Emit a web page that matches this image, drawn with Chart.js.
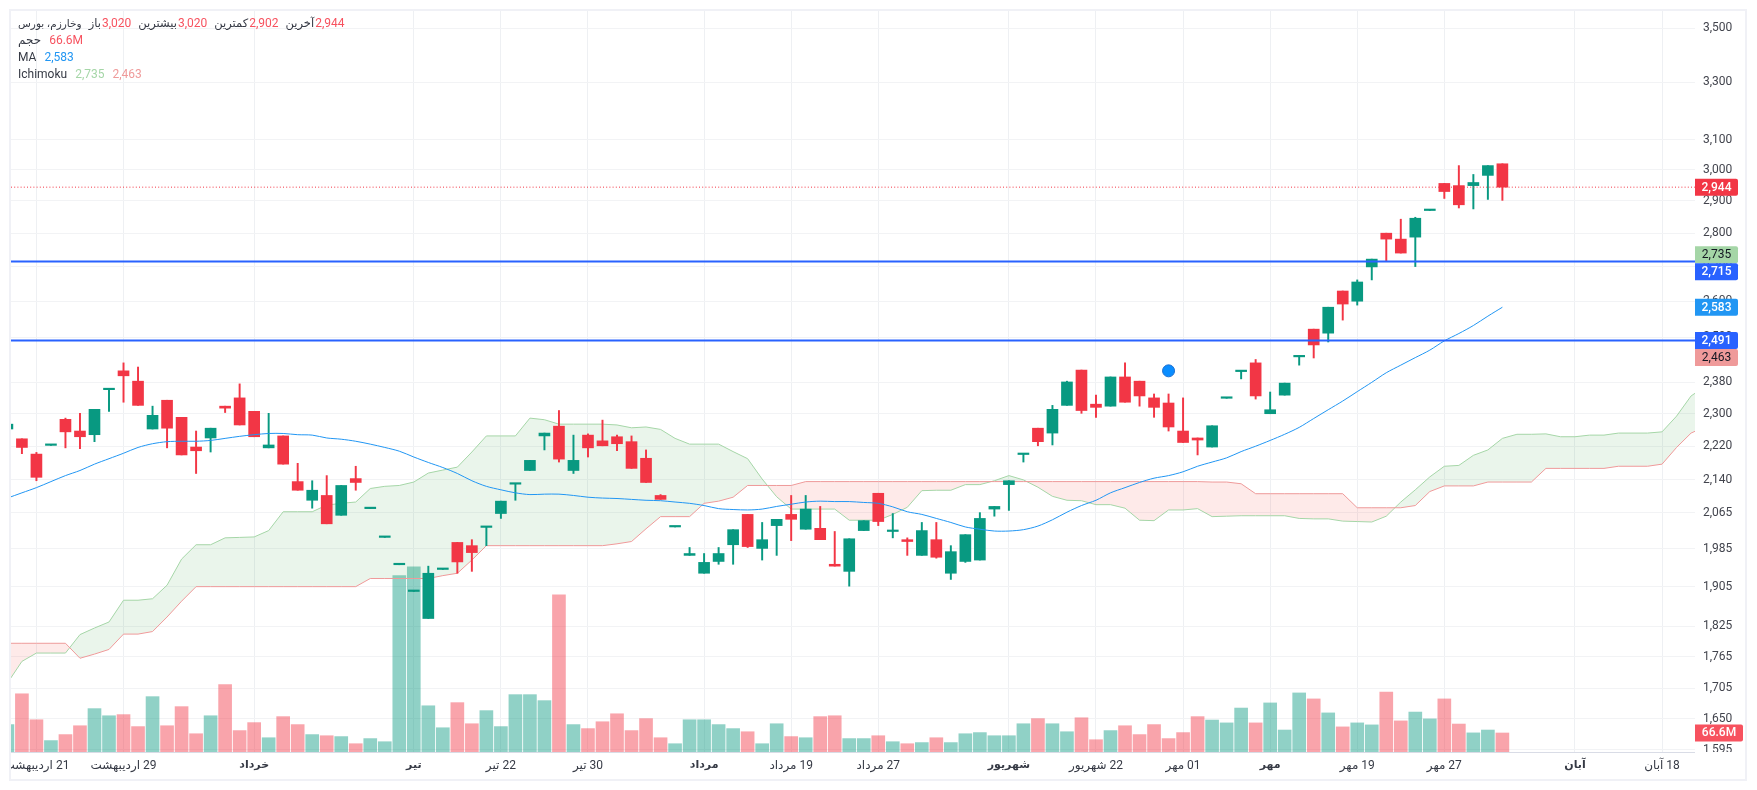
<!DOCTYPE html>
<html lang="fa">
<head>
<meta charset="utf-8">
<title>وخارزم</title>
<script src="https://cdn.jsdelivr.net/npm/chart.js@4"></script>
<style>
  html, body { margin: 0; padding: 0; background: #fff; overflow: hidden; }
  #card { position: absolute; left: 9px; top: 9px; width: 1734px; height: 768px; border: 2px solid #f0f1f6; overflow: hidden; }
  #chart { position: absolute; left: -11px; top: -11px; }
  #legend { position: absolute; left: 18px; top: 15px; font: 12px/17px Roboto, "DejaVu Sans", sans-serif; color: #363a45; }
  #legend .row { display: flex; height: 17px; }
  #legend .row span { margin-left: 7px; }
  #legend .row span:first-child { margin-left: 0; }
  #legend .row span.fa { font-size: 11.5px; }
  #legend .row span.name { font-size: 10.5px; }
  #legend .row span.v { margin-left: 1px; }
  #legend .row span.g { margin-left: 8px; }
</style>
</head>
<body>
<div id="card"><canvas id="chart" dir="rtl" width="1757" height="790"></canvas></div>
<div id="legend">
  <div class="row">
    <span class="name">وخارزم، بورس</span>
    <span class="fa">باز</span><span class="v" style="color:#f7525f">3,020</span>
    <span class="fa">بیشترین</span><span class="v" style="color:#f7525f">3,020</span>
    <span class="fa">کمترین</span><span class="v" style="color:#f7525f">2,902</span>
    <span class="fa">آخرین</span><span class="v" style="color:#f7525f">2,944</span>
  </div>
  <div class="row"><span>حجم</span><span class="g" style="color:#f7525f">66.6M</span></div>
  <div class="row"><span>MA</span><span class="g" style="color:#2196f3">2,583</span></div>
  <div class="row"><span>Ichimoku</span><span class="g" style="color:#a5d6a7">2,735</span><span class="g" style="color:#ef9a9a">2,463</span></div>
</div>
<script>
const opens = [2262,2238,2201,2222,2286,2257,2248,2361,2410,2383,2262,2334,2291,2218,2240,2319,2340,2306,2216,2245,2136,2093,2104,2059,2143,2074,2010,1951,1895,1840,1941,1999,1992,2032,2063,2130,2162,2245,2269,2162,2247,2233,2243,2231,2191,2104,2033,1971,1933,1958,1994,2061,1986,2036,2061,2028,2030,1952,1937,2025,2109,2023,2005,1971,2005,1933,1958,1961,2073,2129,2200,2264,2252,2321,2412,2324,2319,2394,2383,2340,2327,2257,2240,2218,2339,2408,2431,2300,2347,2447,2522,2511,2629,2600,2699,2800,2782,2788,2870,2956,2949,2949,2982,3020];
const highs = [2274,2238,2205,2223,2289,2301,2311,2362,2431,2420,2319,2334,2291,2257,2264,2319,2376,2306,2301,2245,2179,2138,2150,2127,2172,2075,2011,1952,1896,1948,1942,1999,2005,2033,2091,2131,2186,2252,2308,2247,2250,2284,2247,2245,2211,2106,2034,1988,1975,1988,2027,2061,2043,2050,2104,2104,2079,2023,2007,2047,2109,2063,2009,2043,2043,1992,2016,2065,2079,2138,2201,2264,2321,2383,2412,2347,2394,2431,2383,2350,2350,2340,2240,2270,2340,2409,2440,2355,2378,2448,2522,2583,2629,2661,2722,2800,2843,2849,2871,2956,3014,2985,3014,3020];
const lows = [2262,2202,2138,2222,2216,2214,2231,2306,2329,2321,2262,2216,2199,2155,2206,2303,2272,2243,2216,2177,2116,2075,2040,2059,2116,2074,2010,1951,1895,1840,1941,1933,1937,1992,2052,2093,2162,2211,2182,2155,2194,2221,2209,2167,2134,2095,2033,1971,1933,1952,1952,1988,1961,1971,2003,2028,2005,1948,1906,2025,2036,2009,1971,1971,1965,1920,1956,1961,2057,2070,2182,2221,2223,2321,2301,2291,2319,2329,2319,2291,2257,2229,2199,2218,2339,2389,2337,2300,2347,2425,2444,2487,2547,2589,2661,2715,2740,2700,2870,2908,2878,2875,2905,2902];
const closes = [2274,2217,2146,2223,2255,2243,2311,2362,2397,2321,2296,2264,2199,2209,2264,2314,2272,2243,2223,2177,2116,2116,2040,2127,2134,2075,2011,1952,1896,1933,1942,1957,1977,2033,2091,2131,2186,2252,2189,2186,2216,2221,2226,2167,2134,2095,2034,1975,1956,1975,2027,1990,2005,2050,2050,2073,2005,1948,2007,2047,2045,2025,2001,2025,1967,1979,2016,2052,2079,2138,2201,2231,2311,2381,2308,2316,2394,2329,2345,2316,2267,2229,2235,2270,2340,2409,2345,2310,2378,2448,2479,2583,2592,2655,2722,2782,2740,2846,2871,2930,2888,2959,3014,2944];
const volumes = [96,204,113,40,61,92,152,127,131,89,194,92,159,64,127,236,75,103,50,124,96,61,57,54,29,47,36,618,649,162,85,173,99,145,89,201,201,180,551,96,82,106,134,75,117,50,29,113,113,96,82,71,29,99,54,50,124,127,47,47,57,36,29,33,50,33,64,68,57,57,99,117,99,71,120,43,75,92,61,96,47,68,124,112,102,154,102,172,77,207,186,137,88,102,95,210,109,140,116,186,98,67,77,66.6];
const maValues = [2098,2110,2122,2136,2150,2162,2177,2190,2203,2217,2226,2231,2232,2232,2234,2239,2244,2248,2251,2251,2248,2247,2240,2237,2232,2225,2217,2208,2194,2181,2169,2155,2138,2125,2117,2110,2106,2107,2107,2104,2100,2098,2097,2095,2093,2092,2089,2086,2081,2074,2072,2071,2073,2079,2084,2089,2091,2090,2090,2088,2086,2078,2067,2061,2052,2043,2033,2028,2024,2024,2027,2035,2049,2066,2081,2093,2110,2122,2134,2144,2150,2159,2172,2182,2192,2207,2220,2234,2249,2266,2288,2310,2332,2356,2380,2405,2425,2445,2465,2490,2510,2532,2558,2583];
const spanA = [1715,1756,1772,1772,1772,1808,1821,1833,1877,1877,1880,1908,1963,1994,1994,2009,2010,2011,2025,2067,2067,2067,2082,2086,2089,2120,2125,2127,2135,2156,2163,2170,2206,2245,2245,2245,2289,2285,2274,2274,2274,2274,2272,2265,2267,2261,2239,2225,2225,2225,2207,2190,2142,2101,2073,2073,2073,2073,2048,2048,2048,2061,2077,2115,2116,2116,2129,2129,2138,2150,2140,2123,2102,2093,2092,2083,2083,2075,2048,2047,2071,2071,2074,2056,2057,2058,2058,2058,2058,2052,2051,2051,2046,2045,2044,2057,2089,2117,2147,2172,2174,2198,2211,2239,2249,2249,2250,2243,2243,2247,2247,2252,2252,2252,2255,2294,2345,2370];
const spanB = [1791,1791,1791,1791,1791,1762,1770,1779,1809,1809,1814,1843,1875,1905,1905,1905,1905,1905,1905,1905,1905,1905,1905,1905,1905,1922,1922,1922,1922,1922,1928,1933,1961,1992,1992,1992,1992,1992,1992,1992,1992,1992,1996,2001,2029,2056,2056,2056,2086,2091,2100,2127,2127,2127,2127,2136,2136,2136,2136,2136,2136,2136,2136,2136,2136,2136,2136,2136,2136,2136,2136,2136,2136,2136,2136,2136,2136,2136,2136,2136,2136,2136,2136,2135,2135,2131,2108,2108,2108,2108,2108,2108,2108,2076,2076,2076,2076,2081,2113,2126,2126,2126,2135,2135,2135,2135,2167,2167,2167,2167,2167,2172,2172,2172,2177,2217,2252,2268];
const priceTicks = [1595,1650,1705,1765,1825,1905,1985,2065,2140,2220,2300,2380,2500,2600,2700,2800,2900,3000,3100,3300,3500];
const timeTicks = [2,8,17,28,34,40,48,54,60,69,75,81,87,93,99,108,114];
const timeLabels = ['21 اردیبهشت','29 اردیبهشت','خرداد','تیر','22 تیر','30 تیر','مرداد','19 مرداد','27 مرداد','شهریور','22 شهریور','01 مهر','مهر','19 مهر','27 مهر','آبان','18 آبان'];
const monthTicks = [17,28,48,69,87,108];
const levelLines = [2715,2491];
const lastPrice = 2944;
const markerPoint = { x: 80, y: 2410 };

const xMin = 0.248, xMax = 116.27;
const fontFamily = 'Roboto, "Noto Sans", "DejaVu Sans", sans-serif';
const up = '#089981', down = '#f23645';
const isUp = closes.map((c, i) => c >= opens[i]);
const candleColors = isUp.map(u => u ? up : down);
const volumeColors = isUp.map(u => u ? 'rgba(8,153,129,0.45)' : 'rgba(242,54,69,0.45)');

const tags = [
  { value: 2944, text: '2,944', bg: '#f23645', fg: '#fff', weight: 500 },
  { value: 2735, text: '2,735', bg: '#a5d6a7', fg: '#131722', weight: 400 },
  { value: 2715, text: '2,715', bg: '#2962ff', fg: '#fff', weight: 500 },
  { value: 2583, text: '2,583', bg: '#2196f3', fg: '#fff', weight: 500 },
  { value: 2491, text: '2,491', bg: '#2962ff', fg: '#fff', weight: 500 },
  { value: 2463, text: '2,463', bg: '#ef9a9a', fg: '#131722', weight: 400 }
];

// price tags on the right axis, plus the clipping under the time axis
const overlayPlugin = {
  id: 'overlay',
  afterDraw(chart) {
    const ctx = chart.ctx, a = chart.chartArea;
    ctx.save();
    ctx.fillStyle = '#fff';
    ctx.fillRect(a.right, a.bottom, 60, 40);
    ctx.strokeStyle = '#d9dce6';
    ctx.beginPath();
    ctx.moveTo(a.left, a.bottom + 0.5);
    ctx.lineTo(a.right, a.bottom + 0.5);
    ctx.stroke();
    ctx.textAlign = 'center';
    ctx.textBaseline = 'middle';
    let prevBottom = -Infinity;
    tags.forEach(t => {
      let y = chart.scales.y.getPixelForValue(t.value);
      if (y - 8.5 < prevBottom) y = prevBottom + 8.5;
      prevBottom = y + 8.5;
      ctx.fillStyle = t.bg;
      ctx.beginPath();
      ctx.roundRect(a.right, y - 8.5, 43, 17, [0, 2, 2, 0]);
      ctx.fill();
      ctx.fillStyle = t.fg;
      ctx.font = t.weight + ' 12px ' + fontFamily;
      ctx.fillText(t.text, a.right + 21.5, y + 0.5);
    });
    const vy = chart.scales.yVol.getPixelForValue(volumes[volumes.length - 1]);
    ctx.fillStyle = '#f7525f';
    ctx.beginPath();
    ctx.roundRect(a.right, vy - 8.5, 48, 17, [0, 2, 2, 0]);
    ctx.fill();
    ctx.fillStyle = '#fff';
    ctx.font = '500 12px ' + fontFamily;
    ctx.fillText('66.6M', a.right + 24, vy + 0.5);
    ctx.restore();
  }
};

const xy = arr => arr.map((v, i) => ({ x: i, y: v }));
const hLine = v => [{ x: xMin, y: v }, { x: xMax, y: v }];

new Chart(document.getElementById('chart'), {
  data: {
    datasets: [
      { type: 'bar', yAxisID: 'yVol', order: 9, grouped: false, barThickness: 13, data: xy(volumes), backgroundColor: volumeColors },
      { type: 'line', order: 8, data: xy(spanA), borderColor: '#a5d6a7', borderWidth: 1, pointRadius: 0, tension: 0,
        fill: { target: '+1', above: 'rgba(67,160,71,0.11)', below: 'rgba(244,67,54,0.11)' } },
      { type: 'line', order: 7, data: xy(spanB), borderColor: '#ef9a9a', borderWidth: 1, pointRadius: 0, tension: 0, fill: false },
      { type: 'bar', order: 5, grouped: false, barThickness: 1.3, data: xy(highs).map((p, i) => ({ x: i, y: [lows[i], highs[i]] })), backgroundColor: candleColors },
      { type: 'bar', order: 4, grouped: false, barThickness: 11, minBarLength: 1.5, data: xy(opens).map((p, i) => ({ x: i, y: [opens[i], closes[i]] })), backgroundColor: candleColors },
      { type: 'line', order: 3, data: xy(maValues), borderColor: '#2196f3', borderWidth: 1, pointRadius: 0, tension: 0.3, fill: false },
      { type: 'line', order: 2, data: hLine(lastPrice), borderColor: '#f23645', borderWidth: 1, borderDash: [1, 2.2], pointRadius: 0, fill: false },
      { type: 'line', order: 1, data: hLine(levelLines[0]), borderColor: '#2962ff', borderWidth: 2, pointRadius: 0, fill: false },
      { type: 'line', order: 1, data: hLine(levelLines[1]), borderColor: '#2962ff', borderWidth: 2, pointRadius: 0, fill: false },
      { type: 'scatter', order: 0, data: [markerPoint], pointRadius: 6, backgroundColor: '#0a8dff', borderColor: '#1c6fd1', borderWidth: 1 }
    ]
  },
  options: {
    responsive: false,
    animation: false,
    events: [],
    layout: { padding: { left: 11, top: 11, right: 12, bottom: 10 } },
    plugins: { legend: { display: false }, tooltip: { enabled: false } },
    scales: {
      x: {
        type: 'linear', min: xMin, max: xMax, offset: false,
        border: { display: false },
        grid: { color: '#eef0f3', drawTicks: false, offset: false },
        afterBuildTicks: s => { s.ticks = timeTicks.map(v => ({ value: v })); },
        afterFit: s => { s.height = 28; s.paddingLeft = 0; s.paddingRight = 0; },
        ticks: {
          autoSkip: false, maxRotation: 0, padding: 7, color: '#363a45',
          font: c => {
            const isMonth = monthTicks.includes(c.tick && c.tick.value);
            return { family: fontFamily, size: isMonth ? 11 : 12, weight: isMonth ? 'bold' : 'normal' };
          },
          callback: (v, i) => timeLabels[i]
        }
      },
      y: {
        type: 'logarithmic', position: 'right', min: 1590.9, max: 3567,
        border: { display: false },
        grid: { color: '#f2f3f5', drawTicks: false },
        afterBuildTicks: s => { s.ticks = priceTicks.map(v => ({ value: v })); },
        afterFit: s => { s.width = 50; s.paddingTop = 0; s.paddingBottom = 0; },
        ticks: {
          autoSkip: false, padding: 8, color: '#42444d', crossAlign: 'near',
          font: { family: fontFamily, size: 12 },
          callback: v => Number(v).toLocaleString('en-US')
        }
      },
      yVol: { type: 'linear', display: false, position: 'right', min: 0, max: 2597 }
    }
  },
  plugins: [overlayPlugin]
});
</script>
</body>
</html>
